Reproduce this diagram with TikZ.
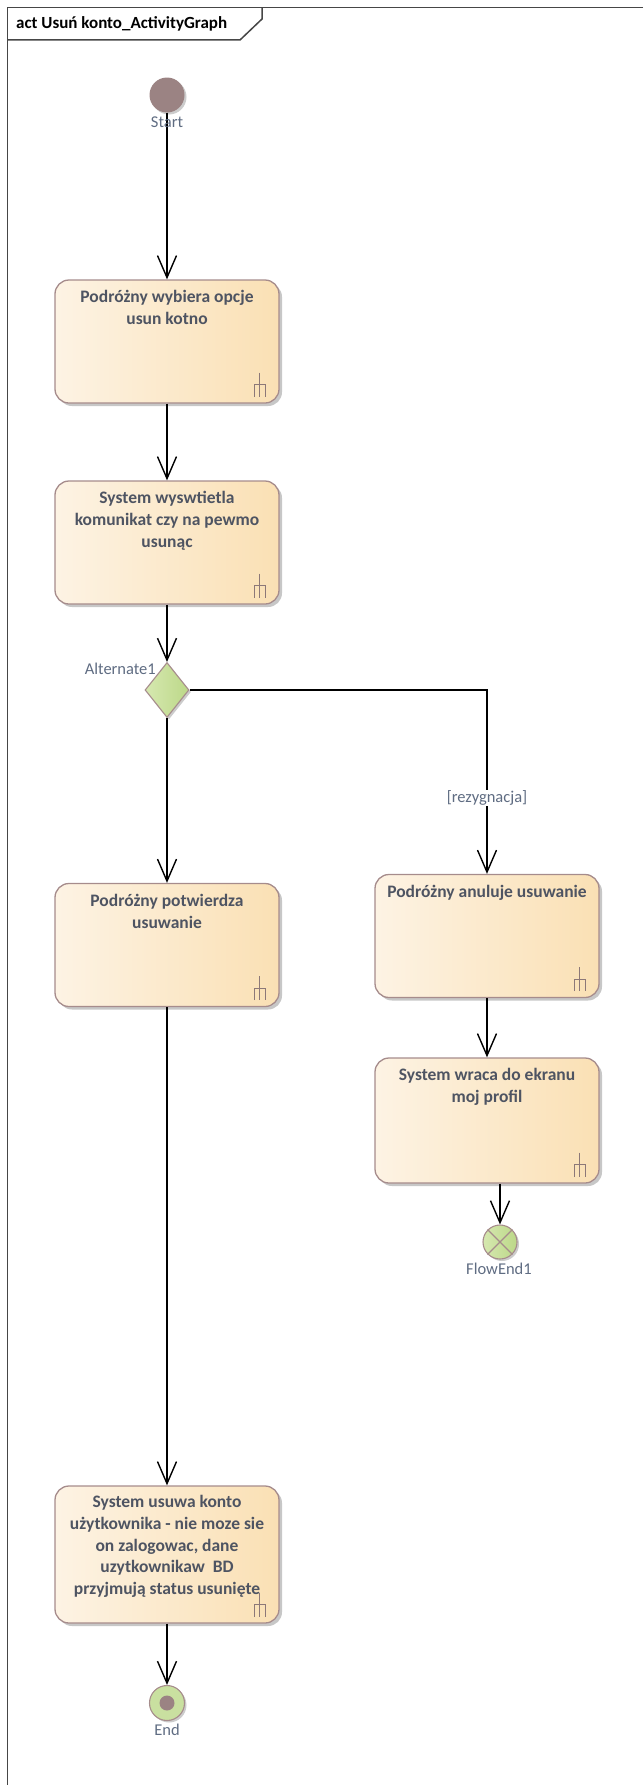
\documentclass[tikz,border=0pt]{standalone}
\usepackage{fontspec}
\setmainfont{Carlito}
\usetikzlibrary{arrows.meta,shapes.geometric,shadows}

\definecolor{boxL}{RGB}{253,243,228}
\definecolor{boxR}{RGB}{250,224,180}
\definecolor{boxEdge}{RGB}{166,140,140}
\definecolor{txtC}{RGB}{78,84,98}
\definecolor{lblC}{RGB}{95,108,130}
\definecolor{nodeBrown}{RGB}{155,131,131}
\definecolor{greenL}{RGB}{214,232,176}
\definecolor{greenR}{RGB}{188,216,136}
\definecolor{iconC}{RGB}{140,120,120}
\definecolor{frameC}{RGB}{70,70,70}

\begin{document}
\begin{tikzpicture}[x=1pt,y=-1pt,
  action/.style={draw=boxEdge, line width=1.3pt, rounded corners=14pt,
    minimum width=224pt, minimum height=123pt, inner sep=0pt,
    left color=boxL, right color=boxR,
    drop shadow={shadow xshift=3pt,shadow yshift=-3pt,opacity=0.22,fill=black}},
  acttext/.style={anchor=north, align=center, text=txtC, inner sep=0pt,
    font=\fontsize{17.5}{21.7}\selectfont\bfseries},
  lbl/.style={text=lblC, inner sep=1pt, font=\fontsize{16.5}{19}\selectfont},
  flow/.style={draw=black, line width=1.4pt,
    -{Straight Barb[length=22pt,width=19pt,line width=1.4pt]}},
  icon/.style={draw=iconC, line width=1.1pt},
  frame/.style={draw=frameC, line width=1.5pt}]

\useasboundingbox (0,0) rectangle (643,1785);

% diagram frame and title tab
\draw[frame] (643,7.5) -- (7.5,7.5) -- (7.5,1785);
\draw[frame] (7.5,40) -- (240,40) -- (262,19) -- (262,7.5);
\node[anchor=west, inner sep=0pt, font=\fontsize{17}{20}\selectfont\bfseries]
  (title) at (16,24) {act Usuń konto\_ActivityGraph};

% initial node
\node[circle, fill=nodeBrown, minimum size=35pt, inner sep=0pt,
  drop shadow={shadow xshift=2pt,shadow yshift=-2pt,opacity=0.2,fill=black}]
  (start) at (167,95) {};

% actions
\node[action] (b1) at (167,341.5) {};
\node[action] (b2) at (167,542.5) {};
\node[action] (b3) at (167,945) {};
\node[action] (b4) at (487,936) {};
\node[action, minimum height=125pt] (b5) at (487,1120.5) {};
\node[action, minimum height=137pt] (b6) at (167,1554.5) {};

\node[acttext] (b1t) at ([yshift=-11pt]b1.north) {Podróżny wybiera opcje\\usun kotno};
\node[acttext] (b2t) at ([yshift=-11pt]b2.north) {System wyswtietla\\komunikat czy na pewmo\\usunąc};
\node[acttext] (b3t) at ([yshift=-11pt]b3.north) {Podróżny potwierdza\\usuwanie};
\node[acttext] (b4t) at ([yshift=-11pt]b4.north) {Podróżny anuluje usuwanie};
\node[acttext] (b5t) at ([yshift=-11pt]b5.north) {System wraca do ekranu\\moj profil};
\node[acttext] (b6t) at ([yshift=-10pt]b6.north) {System usuwa konto\\użytkownika - nie moze sie\\on zalogowac, dane\\uzytkownikaw\ \ BD\\przyjmują status usunięte};

% call-behaviour fork marks
\foreach \b in {b1,b2,b3,b4,b5,b6} {
  \draw[icon] ([shift={(-20,-31)}]\b.south east) -- ([shift={(-20,-7)}]\b.south east);
  \draw[icon] ([shift={(-25,-7)}]\b.south east) -- ([shift={(-25,-19)}]\b.south east)
    -- ([shift={(-14,-19)}]\b.south east) -- ([shift={(-14,-7)}]\b.south east);
}

% decision
\node[diamond, draw=boxEdge, line width=1.1pt, left color=greenL, right color=greenR,
  minimum width=44pt, minimum height=55pt, inner sep=0pt,
  drop shadow={shadow xshift=2pt,shadow yshift=-2pt,opacity=0.2,fill=black}]
  (alt) at (167,690) {};

% final nodes
\node[circle, draw=boxEdge, line width=1.1pt, fill=greenR!80!white, minimum size=35pt, inner sep=0pt,
  drop shadow={shadow xshift=2pt,shadow yshift=-2pt,opacity=0.2,fill=black}]
  (end) at (167,1703) {};
\node[circle, fill=nodeBrown, minimum size=15pt, inner sep=0pt] (endDot) at (end.center) {};

\node[circle, draw=boxEdge, line width=1.1pt, left color=greenL, right color=greenR,
  minimum size=34pt, inner sep=0pt,
  drop shadow={shadow xshift=2pt,shadow yshift=-2pt,opacity=0.2,fill=black}]
  (fe) at (500,1242) {};
\draw[icon, draw=boxEdge] (fe.north east) -- (fe.south west);
\draw[icon, draw=boxEdge] (fe.north west) -- (fe.south east);

% control flows
\draw[flow] (start.south) -- (b1.north);
\draw[flow] (b1.south) -- (b2.north);
\draw[flow] (b2.south) -- (alt.north);
\draw[flow] (alt.east) -| (b4.north);
\draw[flow] (alt.south) -- (b3.north);
\draw[flow] (b3.south) -- (b6.north);
\draw[flow] (b6.south) -- (end.north);
\draw[flow] (b4.south) -- (b5.north);
\draw[flow] (b5.south -| fe.north) -- (fe.north);

% labels
\node[lbl] (startLbl) at (167,122) {Start};
\node[lbl, anchor=east] (altLbl) at (157,669) {Alternate1};
\node[lbl, fill=white] (rez) at (487,798) {[rezygnacja]};
\node[lbl] (feLbl) at (499,1269) {FlowEnd1};
\node[lbl] (endLbl) at (167,1730) {End};

\end{tikzpicture}
\end{document}
